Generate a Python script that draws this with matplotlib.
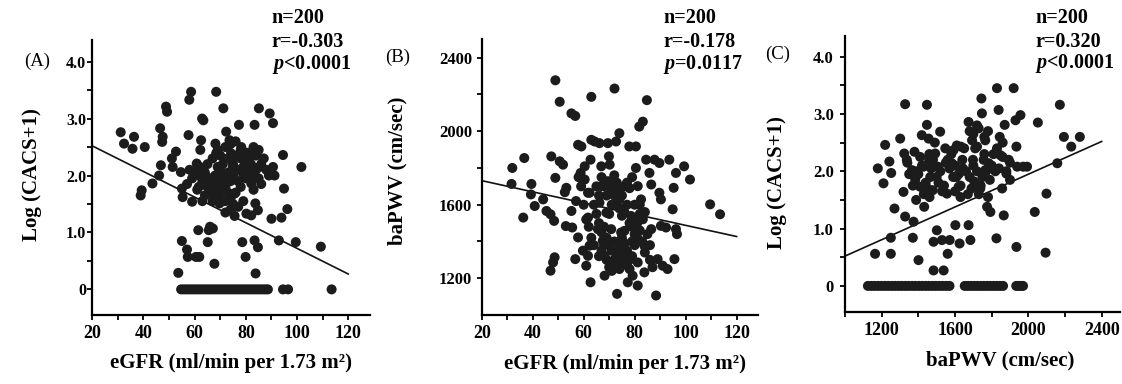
import numpy as np
import matplotlib.pyplot as plt

plt.rcParams['font.family'] = ['Liberation Serif', 'DejaVu Serif']
plt.rcParams['mathtext.fontset'] = 'custom'
plt.rcParams['mathtext.it'] = 'Liberation Serif:italic:bold'
plt.rcParams['mathtext.rm'] = 'Liberation Serif:bold'

# ---- data ----
# (A) eGFR vs Log(CACS+1)
a_points = np.array([
    (31.1, 2.76), (32.4, 2.56), (36.3, 2.68), (35.7, 2.47), (40.5, 2.50), (39.3, 1.74),
    (38.9, 1.65), (43.5, 1.86), (46.1, 2.00), (46.8, 2.18), (46.5, 2.83), (47.5, 2.68),
    (47.3, 2.59), (48.8, 3.21), (49.2, 3.12), (51.1, 2.30), (51.4, 2.15), (52.7, 2.42),
    (53.6, 0.29), (55.0, 0.85), (54.6, 2.06), (55.0, 1.77), (55.3, 1.62), (57.0, 0.70),
    (57.3, 0.57), (57.6, 2.71), (57.9, 3.33), (58.6, 3.47), (59.0, 1.54), (60.5, 0.57),
    (61.8, 0.57), (60.8, 2.21), (61.2, 2.06), (61.6, 1.80), (61.4, 1.04), (62.2, 2.45),
    (62.5, 2.62), (62.9, 3.00), (63.4, 2.97), (64.4, 1.92), (65.5, 1.04), (65.1, 0.83),
    (67.1, 1.07), (67.7, 0.45), (68.4, 3.47), (68.1, 2.56), (68.4, 2.39), (69.0, 2.15),
    (69.7, 1.89), (69.7, 1.51), (71.2, 3.18), (72.3, 2.77), (73.6, 2.62), (74.2, 2.39),
    (74.9, 2.15), (75.5, 1.68), (75.6, 1.29), (77.3, 2.89), (78.2, 2.50), (78.6, 0.83),
    (79.9, 0.57), (80.1, 2.04), (80.2, 1.33), (82.1, 1.86), (82.1, 1.30), (83.4, 2.89),
    (83.4, 0.86), (83.8, 0.28), (83.7, 1.51), (84.7, 0.74), (85.1, 3.18), (85.4, 2.15),
    (84.7, 1.39), (89.3, 3.09), (90.6, 2.92), (90.0, 1.24), (90.6, 2.15), (91.2, 2.00),
    (92.9, 0.86), (93.9, 1.26), (94.5, 2.36), (94.9, 1.77), (96.2, 1.41), (99.5, 0.83),
    (101.7, 2.15), (109.3, 0.75), (66.0, 1.10),
    (64, 2.05), (66, 1.95), (67, 1.85), (68, 2.00), (70, 2.10), (71, 1.95), (72, 1.80),
    (73, 2.05), (74, 1.90), (75, 2.20), (76, 2.35), (77, 2.10), (78, 2.30), (79, 2.00),
    (80, 2.25), (81, 2.40), (82, 2.20), (83, 2.05), (84, 2.35), (86, 2.20), (87, 2.30),
    (72, 2.50), (73, 2.30), (71, 2.20), (69, 1.75), (68, 1.65), (66, 1.70), (65, 1.80),
    (63, 1.90), (62, 2.00), (60, 2.05), (59, 1.95), (58, 2.10), (57, 1.85), (61, 1.75),
    (64, 1.65), (67, 1.55), (70, 1.60), (72, 1.55), (74, 1.60), (76, 1.70), (78, 1.80),
    (80, 1.95), (82, 2.00), (85, 1.95), (83, 1.75), (79, 1.55), (77, 1.45), (75, 1.50),
    (73, 1.70), (71, 1.75), (70, 2.35), (69, 2.45), (74, 2.55), (76, 2.60), (78, 2.45),
    (80, 2.40), (82, 2.35), (84, 2.10), (86, 1.85), (63, 1.55), (62, 2.15), (65, 2.20),
    (67, 2.30), (75, 2.00), (77, 1.90), (79, 2.15), (81, 2.10), (83, 2.50), (85, 2.45),
    (88, 2.10), (89, 2.00), (74, 1.40), (72, 1.35),
])
a_zero_x = [54.7, 55.7, 56.7, 57.7, 58.7, 59.7, 60.7, 61.7, 62.7, 63.7, 64.7, 65.7,
            66.7, 67.7, 68.7, 69.7, 70.7, 71.7, 72.7, 73.7, 74.7, 75.7, 76.7, 77.7,
            78.7, 79.7, 80.7, 81.7, 82.7, 83.7, 84.7, 85.7, 86.7, 87.7, 88.6,
            94.5, 96.5, 113.5]
a_line_x = [20, 120]
a_line_y = [2.52, 0.27]

# (B) eGFR vs baPWV
b_points = np.array([
    (32.0, 1800), (31.7, 1713), (36.7, 1854), (36.3, 1530), (39.5, 1713), (39.3, 1656),
    (40.8, 1593), (44.1, 1629), (45.4, 1566), (47.0, 1548), (47.0, 1241), (47.3, 1863),
    (48.0, 1286), (48.6, 1314), (48.9, 2277), (48.9, 1746), (48.4, 1512), (50.6, 2160),
    (50.6, 1836), (51.9, 1818), (52.6, 1668), (53.2, 1692), (53.0, 1484), (55.2, 1566),
    (55.5, 1476), (55.2, 2097), (56.7, 2083), (56.7, 1304), (57.8, 1422), (57.8, 1926),
    (59.1, 1917), (58.8, 1773), (59.7, 1350), (61.0, 1268), (61.7, 1322), (62.3, 1377),
    (62.7, 1178), (63.0, 2187), (63.0, 1953), (62.7, 1845), (62.3, 1665), (61.7, 1530),
    (60.4, 1809), (60.4, 1737), (61.7, 1665), (64.3, 1944), (66.2, 1935), (66.9, 1809),
    (66.9, 1701), (66.2, 1611), (65.6, 1467), (67.5, 1404), (68.2, 1322), (68.2, 1214),
    (69.5, 1935), (69.9, 1863), (70.2, 1818), (69.5, 1728), (68.9, 1557), (70.8, 1467),
    (70.2, 1395), (71.5, 1286), (72.1, 2232), (72.7, 1944), (74.0, 1989), (73.4, 1701),
    (74.0, 1629), (73.1, 1115), (74.4, 1268), (74.7, 1449), (76.0, 1458), (77.3, 1178),
    (77.9, 1917), (78.6, 1539), (79.2, 1214), (80.5, 1917), (81.2, 1160), (80.5, 1800),
    (81.2, 1701), (81.2, 1286), (81.8, 2025), (83.2, 2052), (82.5, 1629), (83.2, 1521),
    (83.8, 1377), (83.8, 1232), (84.8, 2169), (84.5, 1845), (85.8, 1773), (86.5, 1710),
    (86.5, 1467), (87.8, 1845), (88.4, 1106), (89.0, 1304), (89.7, 1827), (90.3, 1629),
    (89.7, 1665), (90.3, 1485), (91.0, 1268), (92.3, 1476), (92.9, 1250), (93.6, 1845),
    (94.9, 1575), (95.3, 1692), (95.6, 1304), (96.2, 1467), (96.2, 1773), (96.6, 1440),
    (99.4, 1809), (101.7, 1737), (109.6, 1602), (113.5, 1548),
    (64, 1600), (65, 1550), (66, 1500), (67, 1450), (68, 1480), (69, 1420), (70, 1380),
    (71, 1350), (72, 1400), (73, 1330), (74, 1370), (75, 1420), (76, 1390), (77, 1350),
    (78, 1300), (79, 1320), (80, 1380), (81, 1420), (82, 1460), (83, 1400), (84, 1340),
    (70, 1550), (71, 1600), (72, 1650), (73, 1620), (74, 1580), (75, 1540), (76, 1560),
    (77, 1600), (78, 1500), (79, 1480), (80, 1520), (69, 1300), (70, 1260), (71, 1240),
    (72, 1300), (73, 1280), (74, 1250), (75, 1300), (76, 1330), (77, 1270), (78, 1250),
    (79, 1400), (80, 1440), (81, 1500), (82, 1550), (68, 1380), (67, 1350), (66, 1320),
    (65, 1700), (66, 1650), (67, 1750), (68, 1700), (69, 1650), (70, 1720), (71, 1680),
    (72, 1760), (73, 1720), (74, 1680), (75, 1650), (76, 1700), (77, 1720), (78, 1690),
    (79, 1750), (80, 1600), (82, 1600), (84, 1560), (85, 1440), (86, 1380), (86, 1300),
    (87, 1260), (63, 1420), (64, 1380), (62, 1480), (61, 1520), (60, 1600), (59, 1700),
    (58, 1750), (57, 1620),
])
b_line_x = [20, 120]
b_line_y = [1731, 1427]

# (C) baPWV vs Log(CACS+1)
c_points = np.array([
    (1164, 0.56), (1179, 2.05), (1210, 1.79), (1219, 2.46), (1242, 2.17), (1252, 1.97),
    (1250, 0.84), (1250, 0.56), (1270, 1.35), (1301, 2.57), (1319, 1.64), (1323, 2.31),
    (1328, 3.17), (1328, 1.21), (1337, 2.20), (1365, 2.02), (1370, 0.84), (1374, 1.12),
    (1379, 2.34), (1383, 1.85), (1388, 1.50), (1401, 0.45), (1410, 1.73), (1419, 2.63),
    (1428, 2.08), (1432, 1.38), (1447, 3.16), (1447, 2.81), (1456, 2.57), (1459, 2.20),
    (1461, 1.55), (1465, 1.90), (1483, 0.77), (1483, 0.27), (1479, 1.67), (1492, 2.31),
    (1501, 0.97), (1507, 2.08), (1519, 2.69), (1529, 0.80), (1538, 0.27), (1547, 2.40),
    (1556, 1.61), (1560, 0.56), (1571, 0.80), (1583, 2.14), (1592, 2.37), (1602, 1.06),
    (1607, 1.90), (1620, 1.73), (1625, 0.74), (1632, 2.43), (1643, 2.05), (1674, 1.06),
    (1674, 2.86), (1684, 0.80), (1693, 2.54), (1698, 2.20), (1705, 1.82), (1720, 2.43),
    (1729, 2.75), (1738, 1.70), (1744, 3.27), (1747, 3.01), (1756, 2.20), (1765, 2.54),
    (1765, 2.02), (1775, 1.38), (1784, 2.14), (1793, 1.29), (1826, 0.83), (1829, 3.45),
    (1829, 2.40), (1838, 3.07), (1844, 2.60), (1848, 2.28), (1857, 1.70), (1866, 1.23),
    (1871, 2.81), (1880, 1.96), (1893, 2.20), (1920, 3.45), (1930, 2.89), (1935, 2.43),
    (1935, 0.68), (1939, 2.08), (1957, 2.98), (1972, 2.08), (1993, 2.08), (2035, 1.29),
    (2052, 2.85), (2099, 1.61), (2094, 0.58), (2158, 2.14), (2172, 3.16), (2194, 2.60),
    (2234, 2.43), (2281, 2.60),
    (1400, 1.95), (1420, 2.10), (1440, 1.80), (1460, 2.30), (1480, 2.20), (1500, 1.90),
    (1520, 2.00), (1540, 1.75), (1560, 2.20), (1580, 2.30), (1600, 2.10), (1620, 1.95),
    (1640, 2.20), (1660, 2.00), (1680, 1.90), (1700, 2.10), (1710, 2.40), (1720, 2.00),
    (1730, 1.60), (1740, 1.75), (1750, 1.90), (1760, 2.30), (1770, 2.00), (1780, 1.55),
    (1790, 1.85), (1800, 2.10), (1810, 2.30), (1820, 2.00), (1690, 1.70), (1670, 1.60),
    (1650, 2.40), (1630, 1.75), (1610, 2.45), (1590, 1.90), (1570, 2.05), (1550, 2.15),
    (1530, 1.65), (1510, 1.80), (1490, 2.50), (1470, 2.05), (1450, 1.70), (1430, 1.60),
    (1410, 2.25), (1390, 2.00), (1370, 1.75), (1350, 1.95), (1340, 2.15), (1700, 2.65),
    (1720, 2.80), (1680, 2.70), (1760, 2.60), (1780, 2.70), (1860, 2.50), (1880, 2.00),
    (1900, 1.85), (1900, 2.15), (1860, 2.25), (1840, 2.05), (1600, 1.65), (1630, 1.55),
])
c_zero_x = [1125, 1144, 1162, 1181, 1199, 1218, 1236, 1255, 1273, 1292, 1310, 1329,
            1347, 1366, 1384, 1403, 1421, 1440, 1458, 1477, 1495, 1514, 1532, 1551, 1570,
            1653, 1670, 1687, 1705, 1722, 1740, 1757, 1775, 1792, 1810, 1827, 1845, 1862,
            1934, 1946, 1958, 1971]
c_line_x = [1000, 2400]
c_line_y = [0.52, 2.52]

egfr_ticks = [20, 30, 40, 50, 60, 70, 80, 90, 100, 110, 120]
egfr_labels = ['20', '', '40', '', '60', '', '80', '', '100', '', '120']
cacs_ticks = [0, 0.5, 1.0, 1.5, 2.0, 2.5, 3.0, 3.5, 4.0]
cacs_labels = ['0', '', '1.0', '', '2.0', '', '3.0', '', '4.0']
pwv_ticks = [1200, 1400, 1600, 1800, 2000, 2200, 2400]
pwv_labels = ['1200', '', '1600', '', '2000', '', '2400']
pwv_xticks = [1000, 1200, 1400, 1600, 1800, 2000, 2200, 2400]
pwv_xlabels = ['', '1200', '', '1600', '', '2000', '', '2400']

stats = [('n=200', 'r=-0.303', '$p$<0.0001'),
         ('n=200', 'r=-0.178', '$p$=0.0117'),
         ('n=200', 'r=0.320', '$p$<0.0001')]

W, H = 1122, 384
fig = plt.figure(figsize=(W / 100, H / 100), dpi=100)
dot = '#1c1c1c'


def add_axes(l, r, t, b):
    return fig.add_axes([l / W, 1 - b / H, (r - l) / W, (b - t) / H])


def style(ax, xticks, xlabels, yticks, ylabels, ypad, ysize):
    for s in ['top', 'right']:
        ax.spines[s].set_visible(False)
    for s in ['left', 'bottom']:
        ax.spines[s].set_linewidth(1.6)
    ax.set_xticks(xticks)
    ax.set_xticklabels(xlabels)
    ax.set_yticks(yticks)
    ax.set_yticklabels(ylabels)
    ax.tick_params(direction='out', length=3.5, width=1.3)
    ax.tick_params(axis='x', pad=4, labelsize=13)
    ax.tick_params(axis='y', pad=ypad, labelsize=ysize)
    for lab in ax.get_xticklabels() + ax.get_yticklabels():
        lab.set_fontweight('bold')


# (A)
ax1 = add_axes(92.3, 370, 40, 315)
ax1.scatter(a_points[:, 0], a_points[:, 1], s=52, c=dot, edgecolors='none', zorder=3)
ax1.scatter(a_zero_x, np.zeros(len(a_zero_x)), s=52, c=dot, edgecolors='none', zorder=3)
ax1.plot(a_line_x, a_line_y, color='#111111', lw=1.2)
ax1.set_xlim(20, 128.5)
ax1.set_ylim(-0.45, 4.38)
style(ax1, egfr_ticks, egfr_labels, cacs_ticks, cacs_labels, 1, 11.5)
ax1.set_xlabel('eGFR (ml/min per 1.73 m²)', fontsize=15, fontweight='bold')
ax1.set_ylabel('Log (CACS+1)', fontsize=15, fontweight='bold')
ax1.xaxis.set_label_coords(0.499, -0.137)
ax1.yaxis.set_label_coords(-0.181, 0.509)

# (B)
ax2 = add_axes(481.7, 758.3, 39.3, 315)
ax2.scatter(b_points[:, 0], b_points[:, 1], s=52, c=dot, edgecolors='none', zorder=3)
ax2.plot(b_line_x, b_line_y, color='#111111', lw=1.2)
ax2.set_xlim(20, 128.5)
ax2.set_ylim(1000, 2500)
style(ax2, egfr_ticks, egfr_labels, pwv_ticks, pwv_labels, 3.5, 12)
ax2.set_xlabel('eGFR (ml/min per 1.73 m²)', fontsize=15, fontweight='bold')
ax2.set_ylabel('baPWV (cm/sec)', fontsize=15, fontweight='bold')
ax2.xaxis.set_label_coords(0.518, -0.14)
ax2.yaxis.set_label_coords(-0.27, 0.522)

# (C)
ax3 = add_axes(845, 1120, 36, 311.7)
ax3.scatter(c_points[:, 0], c_points[:, 1], s=52, c=dot, edgecolors='none', zorder=3)
ax3.scatter(c_zero_x, np.zeros(len(c_zero_x)), s=52, c=dot, edgecolors='none', zorder=3)
ax3.plot(c_line_x, c_line_y, color='#111111', lw=1.2)
ax3.set_xlim(1000, 2500)
ax3.set_ylim(-0.45, 4.36)
style(ax3, pwv_xticks, pwv_xlabels, cacs_ticks, cacs_labels, 4.5, 12)
ax3.set_xlabel('baPWV (cm/sec)', fontsize=15, fontweight='bold')
ax3.set_ylabel('Log (CACS+1)', fontsize=15, fontweight='bold')
ax3.xaxis.set_label_coords(0.564, -0.139)
ax3.yaxis.set_label_coords(-0.211, 0.467)

# panel letters and stats text
for name, (px, py) in zip(['(A)', '(B)', '(C)'], [(37.5, 61.7), (398, 57), (777.5, 54)]):
    fig.text(px / W, 1 - py / H, name, fontsize=13.5, ha='center', va='center')

for (n_txt, r_txt, p_txt), (px, ys) in zip(stats, [(271.7, (18, 41.7, 65)),
                                                    (663.3, (18, 41.7, 65)),
                                                    (1035, (18.3, 41.7, 63.3))]):
    for txt, py in zip((n_txt, r_txt, p_txt), ys):
        fig.text(px / W, 1 - py / H, txt, fontsize=14.5, fontweight='bold',
                 ha='left', va='center')

fig.savefig('out.png', dpi=100)
